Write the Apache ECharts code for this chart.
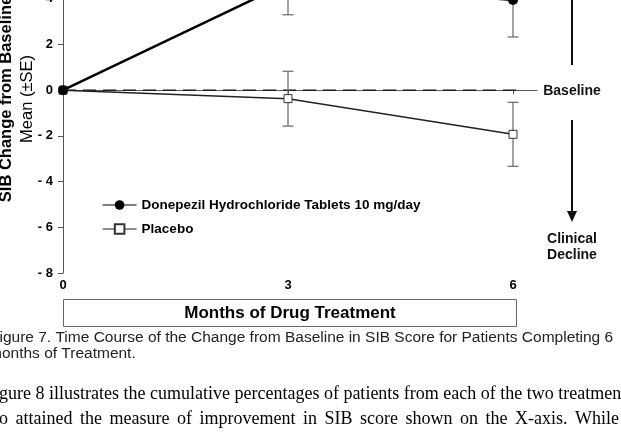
<!DOCTYPE html>
<html>
<head>
<meta charset="utf-8">
<script src="https://cdn.jsdelivr.net/npm/echarts@6/dist/echarts.min.js"></script>
<style>
html,body{margin:0;padding:0;background:#fff}
#chart{width:621px;height:432px}
</style>
</head>
<body>
<div id="chart"></div>
<script>
// data (months of treatment vs mean SIB change)
const months = [0, 3, 6];
const donepezil = [0, 4.7, 3.95];
const donepezilSE = [0, 1.4, 1.62];
const placebo = [0, -0.37, -1.93];
const placeboSE = [0, 1.2, 1.4];
const xTicks = [0, 3, 6];
const baselineX = [0, 6.13];
const baselineY = [0, 0];

const sans = '"Liberation Sans", Arial, sans-serif';
const serif = '"Liberation Serif", "Times New Roman", serif';

let myChart = echarts.init(document.getElementById("chart"));

function errBars(vals, se, color) {
    return {
        type: "custom",
        silent: true,
        clip: true,
        z: 1,
        data: months.map((m, i) => [m, vals[i] - se[i], vals[i] + se[i]]).filter((d, i) => se[i] > 0),
        renderItem: (params, api) => {
            let lo = api.coord([api.value(0), api.value(1)]);
            let hi = api.coord([api.value(0), api.value(2)]);
            let w = 5.5;
            let st = { stroke: color, lineWidth: 1.2 };
            return {
                type: "group",
                children: [
                    { type: "line", shape: { x1: lo[0], y1: lo[1], x2: hi[0], y2: hi[1] }, style: st },
                    { type: "line", shape: { x1: lo[0] - w, y1: lo[1], x2: lo[0] + w, y2: lo[1] }, style: st },
                    { type: "line", shape: { x1: hi[0] - w, y1: hi[1], x2: hi[0] + w, y2: hi[1] }, style: st }
                ]
            };
        }
    };
}

// justify one line of body text between x0 and x1
let ctx = document.createElement("canvas").getContext("2d");
function justified(text, x0, x1, y, font) {
    ctx.font = font;
    let words = text.split(" ");
    let total = words.reduce((s, w) => s + ctx.measureText(w).width, 0);
    let gap = (x1 - x0 - total) / (words.length - 1);
    let x = x0;
    return words.map(w => {
        let el = { type: "text", x: x, y: y, style: { text: w, font: font, fill: "#000", verticalAlign: "middle" } };
        x += ctx.measureText(w).width + gap;
        return el;
    });
}

myChart.setOption({
    animation: false,
    // the page is a crop: plot area runs above the top edge
    grid: { left: 63, right: 84, top: -184, bottom: 159, outerBoundsMode: "none" },
    xAxis: {
        type: "value",
        min: 0,
        max: 6.32,
        axisLine: { lineStyle: { color: "#555", width: 1 } },
        axisTick: { customValues: xTicks, length: 4, lineStyle: { color: "#555" } },
        axisLabel: { customValues: xTicks, color: "#000", fontFamily: sans, fontWeight: "bold", fontSize: 13, margin: 6 },
        splitLine: { show: false }
    },
    yAxis: {
        type: "value",
        min: -8,
        max: 12,
        interval: 2,
        axisLine: { show: true, lineStyle: { color: "#555", width: 1 } },
        axisTick: { show: true, length: 5, lineStyle: { color: "#555" } },
        axisLabel: {
            color: "#000", fontFamily: sans, fontWeight: "bold", fontSize: 13, margin: 10,
            formatter: v => v < 0 ? "- " + Math.abs(v) : String(v)
        },
        splitLine: { show: false }
    },
    legend: {
        orient: "vertical",
        left: 97,
        top: 193,
        itemWidth: 34,
        itemHeight: 12,
        itemGap: 10,
        lineStyle: { width: 1.2 },
        textStyle: { color: "#000", fontFamily: sans, fontWeight: "bold", fontSize: 13.5 },
        data: ["Donepezil Hydrochloride Tablets 10 mg/day", "Placebo"]
    },
    series: [
        {
            type: "line",
            name: "baseline",
            data: baselineX.map((x, i) => [x, baselineY[i]]),
            symbol: "none",
            silent: true,
            z: 0,
            lineStyle: { type: [13, 7], color: "#111", width: 1.3 }
        },
        errBars(donepezil, donepezilSE, "#666"),
        errBars(placebo, placeboSE, "#666"),
        {
            type: "line",
            name: "Placebo",
            data: months.map((m, i) => [m, placebo[i]]),
            symbol: "rect",
            symbolSize: 8,
            z: 2,
            itemStyle: { color: "#fff", borderColor: "#333", borderWidth: 1 },
            lineStyle: { color: "#222", width: 1.5 }
        },
        {
            type: "line",
            name: "Donepezil Hydrochloride Tablets 10 mg/day",
            data: months.map((m, i) => [m, donepezil[i]]),
            symbol: "circle",
            symbolSize: 10,
            z: 3,
            itemStyle: { color: "#000" },
            lineStyle: { color: "#000", width: 2.5 }
        }
    ],
    graphic: [
        // y axis titles
        { type: "text", x: 6, y: 99, rotation: Math.PI / 2, style: { text: "SIB Change from Baseline", font: "bold 16.5px " + sans, fill: "#000", align: "center", verticalAlign: "middle" } },
        { type: "text", x: 27, y: 99, rotation: Math.PI / 2, style: { text: "Mean (±SE)", font: "16.5px " + sans, fill: "#000", align: "center", verticalAlign: "middle" } },
        // x axis title box
        { type: "rect", shape: { x: 63.5, y: 299.5, width: 453, height: 27 }, style: { fill: "none", stroke: "#666", lineWidth: 1 } },
        { type: "text", x: 290, y: 313, style: { text: "Months of Drug Treatment", font: "bold 17px " + sans, fill: "#000", align: "center", verticalAlign: "middle" } },
        // right side annotation
        { type: "line", shape: { x1: 572, y1: -5, x2: 572, y2: 65 }, style: { stroke: "#111", lineWidth: 2 } },
        { type: "text", x: 572, y: 91, style: { text: "Baseline", font: "bold 14px " + sans, fill: "#111", align: "center", verticalAlign: "middle" } },
        { type: "line", shape: { x1: 572, y1: 120, x2: 572, y2: 212 }, style: { stroke: "#111", lineWidth: 2 } },
        { type: "polygon", shape: { points: [[567, 211], [577, 211], [572, 222]] }, style: { fill: "#111" } },
        { type: "text", x: 572, y: 239, style: { text: "Clinical", font: "bold 14px " + sans, fill: "#111", align: "center", verticalAlign: "middle" } },
        { type: "text", x: 572, y: 255, style: { text: "Decline", font: "bold 14px " + sans, fill: "#111", align: "center", verticalAlign: "middle" } },
        // figure caption
        { type: "text", x: -10, y: 338, style: { text: "Figure 7. Time Course of the Change from Baseline in SIB Score for Patients Completing 6", font: "15.5px " + sans, fill: "#222", verticalAlign: "middle" } },
        { type: "text", x: -11, y: 354, style: { text: "months of Treatment.", font: "15.5px " + sans, fill: "#222", verticalAlign: "middle" } },
        // body text
        { type: "text", x: -16, y: 394, style: { text: "Figure 8 illustrates the cumulative percentages of patients from each of the two treatment", font: "18px " + serif, fill: "#000", verticalAlign: "middle" } }
    ].concat(justified("who attained the measure of improvement in SIB score shown on the X-axis. While", -23, 619, 419, "18px " + serif))
});
</script>
</body>
</html>
